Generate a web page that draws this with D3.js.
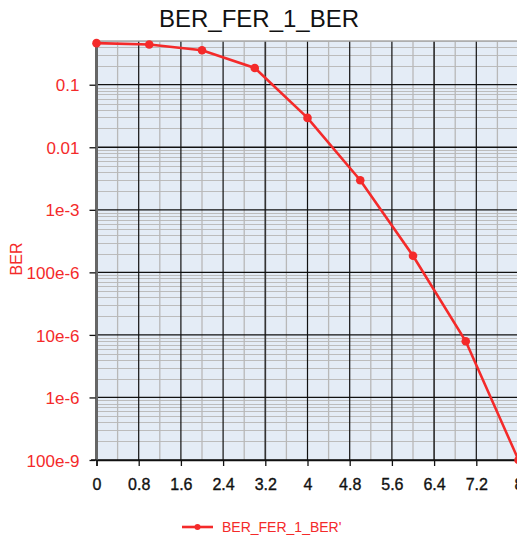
<!DOCTYPE html>
<html><head><meta charset="utf-8">
<script src="https://cdn.jsdelivr.net/npm/d3@7"></script>
<style>
html,body{margin:0;padding:0;background:#fff;overflow:hidden;}
text{font-family:"Liberation Sans",Arial,sans-serif;}
</style></head>
<body>
<svg id="chart" width="517" height="539"></svg>
<script>
const title = "BER_FER_1_BER";
const yLabel = "BER";
const seriesName = "BER_FER_1_BER'";
const ebn0 = [0, 1, 2, 3, 4, 5, 6, 7, 8];
const ber = [0.462, 0.44, 0.356, 0.185, 0.0295, 0.00297, 1.84e-4, 7.9e-6, 1e-7];
const xTicks = [0, 0.8, 1.6, 2.4, 3.2, 4, 4.8, 5.6, 6.4, 7.2, 8];
const xTickLabels = ["0", "0.8", "1.6", "2.4", "3.2", "4", "4.8", "5.6", "6.4", "7.2", "8"];
const yTicks = [0.1, 0.01, 1e-3, 1e-4, 1e-5, 1e-6, 1e-7];
const yTickLabels = ["0.1", "0.01", "1e-3", "100e-6", "10e-6", "1e-6", "100e-9"];

const red = "#f42a2a";
const svg = d3.select("#chart");
const L = 96.5, R = 518.5, T = 41, B = 460;
const x = d3.scaleLinear().domain([0, 8]).range([L, R]);
const y = d3.scaleLog().domain([1e-7, 0.5]).range([B, T]);

// background
svg.append("rect").attr("x", L).attr("y", T).attr("width", R - L).attr("height", B - T).attr("fill", "#e4ecf6");

const grid = svg.append("g");
// horizontal minor
const minorY = [];
for (let e = -7; e <= -1; e++) for (let m = 2; m <= 9; m++) { const v = m * Math.pow(10, e); if (v <= 0.5) minorY.push(v); }
grid.selectAll(".hm").data(minorY).enter().append("line")
  .attr("x1", L).attr("x2", R).attr("y1", d => Math.round(y(d)) + 0.5).attr("y2", d => Math.round(y(d)) + 0.5)
  .attr("stroke", "#bcbcbc").attr("stroke-width", 1);
// vertical minor
const minorX = d3.range(0, 8.01, 0.4).filter((d, i) => i % 2 === 1);
grid.selectAll(".vm").data(minorX).enter().append("line")
  .attr("y1", T).attr("y2", B).attr("x1", d => x(d)).attr("x2", d => x(d))
  .attr("stroke", "#b8b8b8").attr("stroke-width", 1.3);
// vertical major
grid.selectAll(".vM").data(xTicks).enter().append("line")
  .attr("y1", T).attr("y2", B).attr("x1", d => x(d)).attr("x2", d => x(d))
  .attr("stroke", (d, i) => i % 4 === 0 ? "#333" : "#111")
  .attr("stroke-width", (d, i) => i % 4 === 0 ? 1.7 : 1.2);
// horizontal major
grid.selectAll(".hM").data(yTicks).enter().append("line")
  .attr("x1", L).attr("x2", R).attr("y1", d => y(d)).attr("y2", d => y(d))
  .attr("stroke", "#111").attr("stroke-width", 1.3);
// top border
grid.append("line").attr("x1", L).attr("x2", R).attr("y1", T).attr("y2", T).attr("stroke", "#aaa").attr("stroke-width", 1.5);
// left axis line
svg.append("line").attr("x1", L).attr("x2", L).attr("y1", T).attr("y2", B).attr("stroke", "#666").attr("stroke-width", 3);

// y axis
const yAxis = d3.axisLeft(y).tickValues(yTicks).tickSize(6).tickPadding(10)
  .tickFormat((d, i) => yTickLabels[i]);
const gy = svg.append("g").attr("transform", `translate(${L - 1},0)`).call(yAxis);
gy.select(".domain").remove();
gy.selectAll(".tick line").attr("stroke", "#111").attr("stroke-width", 1.3);
gy.selectAll(".tick text").attr("fill", red).style("font-size", "17px").attr("dy", "0.36em");

// x axis
const xAxis = d3.axisBottom(x).tickValues(xTicks).tickSize(6).tickPadding(13)
  .tickFormat((d, i) => xTickLabels[i]);
const gx = svg.append("g").attr("transform", `translate(0,${B})`).call(xAxis);
gx.select(".domain").attr("stroke", "#111").attr("stroke-width", 1.5);
gx.selectAll(".tick line").attr("stroke", "#111").attr("stroke-width", 1.3);
gx.selectAll(".tick text").attr("fill", "#111").attr("stroke", "#111").attr("stroke-width", 0.35).style("font-size", "16px");
svg.append("line").attr("x1", 91).attr("x2", L).attr("y1", B).attr("y2", B).attr("stroke", "#111").attr("stroke-width", 1.5);

// title
svg.append("text").attr("x", 259).attr("y", 27).attr("text-anchor", "middle")
  .style("font-size", "24px").attr("fill", "#111").text(title);
// y label
svg.append("text").attr("transform", "translate(22,259) rotate(-90)").attr("text-anchor", "middle")
  .style("font-size", "16px").attr("fill", red).text(yLabel);

// series
const pts = ebn0.map((d, i) => [d, ber[i]]);
const line = d3.line().x(d => x(d[0])).y(d => y(d[1]));
svg.append("path").datum(pts).attr("d", line).attr("fill", "none").attr("stroke", red).attr("stroke-width", 2.6);
svg.selectAll(".pt").data(pts).enter().append("circle")
  .attr("cx", d => x(d[0])).attr("cy", d => y(d[1])).attr("r", 4.3).attr("fill", red);

// legend
const lg = svg.append("g");
lg.append("line").attr("x1", 182).attr("x2", 213).attr("y1", 527).attr("y2", 527).attr("stroke", red).attr("stroke-width", 2.6);
lg.append("circle").attr("cx", 197.5).attr("cy", 527).attr("r", 3).attr("fill", red);
lg.append("text").attr("x", 222).attr("y", 532).style("font-size", "14px").attr("fill", red).text(seriesName);
</script>
</body></html>
